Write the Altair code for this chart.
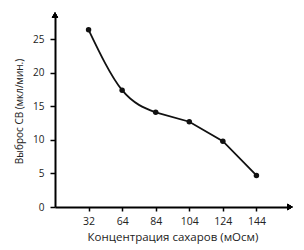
import altair as alt
import pandas as pd

conc = ["32", "64", "84", "104", "124", "144"]
output = [26.4, 17.4, 14.1, 12.7, 9.8, 4.7]
curved_part = ["32", "64", "84"]
straight_part = ["84", "104", "124", "144"]

df = pd.DataFrame({"conc": conc, "out": output})

W, H = 235, 192
FONT = "Open Sans"

x = alt.X("conc:O", sort=conc,
          scale=alt.Scale(type="point", padding=1),
          axis=alt.Axis(title="Концентрация сахаров (мОсм)", labelAngle=0,
                        domainColor="black", domainWidth=2, tickColor="black",
                        tickWidth=1.5, tickSize=4, labelPadding=5,
                        labelFontSize=10.5, titleFontSize=11.5, titleFontWeight="normal",
                        labelColor="#222", titleColor="#222", titlePadding=5,
                        labelFont=FONT, titleFont=FONT))
y = alt.Y("out:Q", scale=alt.Scale(domain=[0, 28.6], nice=False),
          axis=alt.Axis(title="Выброс СВ (мкл/мин.)", values=[0, 5, 10, 15, 20, 25],
                        grid=False, domainColor="black", domainWidth=2, tickColor="black",
                        tickWidth=1.5, tickSize=5, labelPadding=6,
                        labelFontSize=10, titleFontSize=10, titleFontWeight="normal",
                        labelColor="#222", titleColor="#222", titlePadding=8,
                        labelFont=FONT, titleFont=FONT))

base = alt.Chart(df)
line1 = base.transform_filter(alt.FieldOneOfPredicate(field="conc", oneOf=curved_part)).mark_line(
    color="#111", strokeWidth=1.8, interpolate="monotone").encode(x=x, y=y)
line2 = base.transform_filter(alt.FieldOneOfPredicate(field="conc", oneOf=straight_part)).mark_line(
    color="#111", strokeWidth=1.8).encode(x=x, y=y)
pts = base.mark_point(filled=True, color="#111", size=30, opacity=1).encode(x=x, y=y)

arrow_x = base.mark_point(shape="triangle-right", filled=True, color="black",
                          size=40, opacity=1).encode(x=alt.value(W), y=alt.value(H))
arrow_y = base.mark_point(shape="triangle-up", filled=True, color="black",
                          size=40, opacity=1).encode(x=alt.value(0), y=alt.value(0))

chart = (line1 + line2 + pts + arrow_x + arrow_y).properties(
    width=W, height=H,
    autosize=alt.AutoSizeParams(type="none"),
    padding={"left": 55, "top": 15, "right": 14, "bottom": 43},
    background="white",
).configure_view(stroke=None)

chart.save("out.html", embed_options={"renderer": "svg", "actions": False})
